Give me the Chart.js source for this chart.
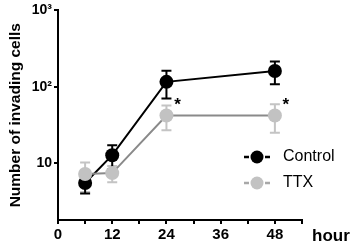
<!DOCTYPE html>
<html>
<head>
<meta charset="utf-8">
<script src="https://cdn.jsdelivr.net/npm/chart.js@4"></script>
<style>
  html,body{margin:0;padding:0;background:#fff}
  #wrap{width:354px;height:246px}
</style>
</head>
<body>
<div id="wrap"><canvas id="chart" width="354" height="246"></canvas></div>
<script>
// data
const hours       = [6, 12, 24, 48];
const controlMean = [5.5, 12.7, 116, 161];
const controlSem  = [1.5, 4.4, 46, 53];
const ttxMean     = [7.2, 7.4, 42, 42];
const ttxSem      = [3.0, 1.8, 15, 17];
const ttxSig      = [false, false, true, true];
const yTicks      = [10, 100, 1000];
const yTickLabels = ['10', '10²', '10³'];
const xTicks      = [0, 12, 24, 36, 48];

const FONT = '"Liberation Sans", Arial, Helvetica, sans-serif';
const pts = (xs, ys) => xs.map((x, i) => ({x, y: ys[i]}));

// error bars, drawn under the markers
const errorBars = {
  id: 'errorBars',
  beforeDatasetsDraw(chart){
    const {ctx, scales:{y}} = chart;
    // TTX first, so control bars sit on top
    [1, 0].forEach(di => {
      const ds = chart.data.datasets[di];
      const meta = chart.getDatasetMeta(di);
      ctx.save();
      ctx.strokeStyle = ds.errColor;
      ctx.lineWidth = 2;
      meta.data.forEach((p, j) => {
        const m = ds.mean[j], s = ds.sem[j];
        const yHi = y.getPixelForValue(m + s);
        const yLo = y.getPixelForValue(Math.max(m - s, 0.01));
        ctx.beginPath();
        ctx.moveTo(p.x, yHi); ctx.lineTo(p.x, yLo);
        ctx.moveTo(p.x - 5, yHi); ctx.lineTo(p.x + 5, yHi);
        ctx.moveTo(p.x - 5, yLo); ctx.lineTo(p.x + 5, yLo);
        ctx.stroke();
      });
      ctx.restore();
    });
  }
};

// asterisks, legend and the "hour" label
const extras = {
  id: 'extras',
  afterDraw(chart){
    const {ctx, chartArea} = chart;
    ctx.save();
    ctx.fillStyle = '#000';
    ctx.textBaseline = 'middle';

    // significance marks
    const ttxMeta = chart.getDatasetMeta(1);
    ctx.font = `bold 17px ${FONT}`;
    ctx.textAlign = 'center';
    ttxMeta.data.forEach((p, j) => {
      if (ttxSig[j]) ctx.fillText('*', p.x + 11, p.y - 10);
    });

    // legend
    chart.data.datasets.forEach((ds, i) => {
      const cx = 257, cy = 157 + i * 26;
      ctx.strokeStyle = ds.legendLine;
      ctx.lineWidth = 2.5;
      ctx.beginPath();
      ctx.moveTo(cx - 13, cy); ctx.lineTo(cx - 8, cy);
      ctx.moveTo(cx + 8, cy); ctx.lineTo(cx + 13, cy);
      ctx.stroke();
      ctx.fillStyle = ds.pointBackgroundColor;
      ctx.beginPath();
      ctx.arc(cx, cy, 6.5, 0, Math.PI * 2);
      ctx.fill();
      ctx.fillStyle = '#000';
      ctx.font = `16px ${FONT}`;
      ctx.textAlign = 'left';
      ctx.fillText(ds.label, 283, cy);
    });

    // axis unit
    ctx.font = `bold 17px ${FONT}`;
    ctx.textAlign = 'left';
    ctx.fillText('hour', chartArea.right + 10, 236);
    ctx.restore();
  }
};

new Chart(document.getElementById('chart'), {
  type: 'line',
  data: {
    datasets: [
      {label:'Control', data:pts(hours, controlMean), mean:controlMean, sem:controlSem,
       borderColor:'#000', borderWidth:2, pointBackgroundColor:'#000', pointBorderColor:'#000',
       pointRadius:7, pointHoverRadius:7, pointBorderWidth:0, errColor:'#000', legendLine:'#000',
       tension:0, order:1},
      {label:'TTX', data:pts(hours, ttxMean), mean:ttxMean, sem:ttxSem,
       borderColor:'#8a8a8a', borderWidth:2, pointBackgroundColor:'#c2c2c2', pointBorderColor:'#c2c2c2',
       pointRadius:7, pointHoverRadius:7, pointBorderWidth:0, errColor:'#c4c4c4', legendLine:'#a8a8a8',
       tension:0, order:0}
    ]
  },
  options: {
    responsive:false, animation:false,
    layout:{padding:{top:9, right:52, bottom:0, left:0}},
    plugins:{legend:{display:false}, tooltip:{enabled:false}},
    scales:{
      x:{
        type:'linear', min:0, max:54,
        afterBuildTicks(s){ s.ticks = [0,6,12,18,24,30,36,42,48,54].map(v => ({value:v})); },
        afterFit(s){ s.height = 26; },
        ticks:{
          autoSkip:false, maxRotation:0, padding:2, color:'#000',
          font:{family:FONT, size:15, weight:'bold'},
          callback:v => xTicks.includes(v) ? String(v) : ''
        },
        grid:{drawOnChartArea:false, drawTicks:true, tickLength:4, color:'#000', lineWidth:2},
        border:{display:true, color:'#000', width:2}
      },
      y:{
        type:'logarithmic', min:1.8, max:1000,
        afterBuildTicks(s){ s.ticks = yTicks.map(v => ({value:v})); },
        afterFit(s){ s.width = 58; },
        ticks:{
          autoSkip:false, padding:2, color:'#000',
          font:{family:FONT, size:14, weight:'bold'},
          callback:v => { const i = yTicks.indexOf(v); return i >= 0 ? yTickLabels[i] : ''; }
        },
        grid:{drawOnChartArea:false, drawTicks:true, tickLength:4, color:'#000', lineWidth:2},
        border:{display:true, color:'#000', width:2},
        title:{display:true, text:'Number of invading cells', color:'#000',
               font:{family:FONT, size:15.5, weight:'bold'}, padding:{top:6, bottom:0}}
      }
    }
  },
  plugins:[errorBars, extras]
});
</script>
</body>
</html>
